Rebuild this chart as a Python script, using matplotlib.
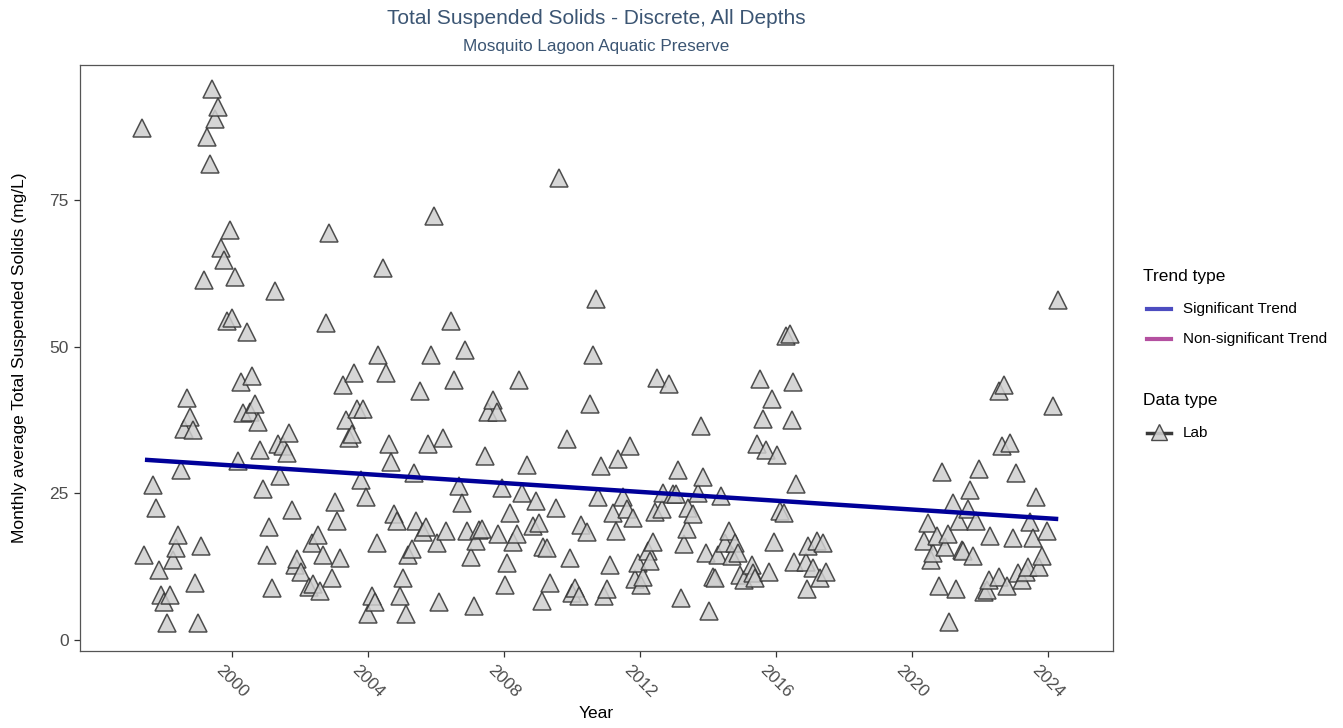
import matplotlib
matplotlib.use("Agg")
import matplotlib.pyplot as plt
from matplotlib.lines import Line2D
import numpy as np

plt.rcParams['font.family'] = ['Liberation Sans', 'DejaVu Sans']

# ---- data (decimal year, monthly average TSS mg/L) ----
years = [
    1997.34, 1997.42, 1997.68, 1997.76, 1997.84, 1997.90, 1998.00, 1998.09, 1998.18, 1998.26,
    1998.34, 1998.42, 1998.51, 1998.59, 1998.67, 1998.76, 1998.84, 1998.92, 1999.01, 1999.09,
    1999.18, 1999.26, 1999.34, 1999.42, 1999.51, 1999.59, 1999.68, 1999.76, 1999.84, 1999.93,
    2000.01, 2000.10, 2000.17, 2000.26, 2000.33, 2000.43, 2000.53, 2000.60, 2000.68, 2000.77,
    2000.83, 2000.92, 2001.02, 2001.09, 2001.19, 2001.26, 2001.35, 2001.42, 2001.49, 2001.61,
    2001.68, 2001.76, 2001.85, 2001.90, 2002.02, 2002.27, 2002.34, 2002.39, 2002.52, 2002.59,
    2002.68, 2002.76, 2002.85, 2002.93, 2003.02, 2003.10, 2003.19, 2003.27, 2003.34, 2003.43,
    2003.52, 2003.60, 2003.69, 2003.80, 2003.86, 2003.93, 2004.01, 2004.11, 2004.21, 2004.27,
    2004.30, 2004.43, 2004.52, 2004.61, 2004.69, 2004.75, 2004.85, 2004.93, 2005.02, 2005.11,
    2005.19, 2005.28, 2005.35, 2005.42, 2005.52, 2005.61, 2005.70, 2005.77, 2005.85, 2005.94,
    2006.02, 2006.10, 2006.20, 2006.28, 2006.44, 2006.52, 2006.69, 2006.77, 2006.86, 2006.92,
    2007.02, 2007.11, 2007.17, 2007.27, 2007.36, 2007.44, 2007.52, 2007.69, 2007.79, 2007.83,
    2007.94, 2008.02, 2008.10, 2008.19, 2008.27, 2008.37, 2008.44, 2008.53, 2008.69, 2008.86,
    2008.95, 2009.03, 2009.11, 2009.14, 2009.27, 2009.35, 2009.53, 2009.61, 2009.86, 2009.94,
    2010.00, 2010.09, 2010.20, 2010.26, 2010.45, 2010.53, 2010.62, 2010.70, 2010.77, 2010.86,
    2010.95, 2011.03, 2011.11, 2011.20, 2011.29, 2011.36, 2011.51, 2011.61, 2011.70, 2011.79,
    2011.85, 2011.95, 2012.03, 2012.10, 2012.22, 2012.29, 2012.37, 2012.43, 2012.50, 2012.64,
    2012.68, 2012.86, 2012.98, 2013.06, 2013.12, 2013.20, 2013.28, 2013.37, 2013.42, 2013.57,
    2013.71, 2013.79, 2013.86, 2013.94, 2014.03, 2014.14, 2014.21, 2014.28, 2014.37, 2014.50,
    2014.62, 2014.70, 2014.79, 2014.89, 2014.95, 2015.07, 2015.29, 2015.33, 2015.38, 2015.44,
    2015.54, 2015.62, 2015.70, 2015.80, 2015.87, 2015.95, 2016.04, 2016.12, 2016.22, 2016.30,
    2016.40, 2016.46, 2016.50, 2016.53, 2016.59, 2016.87, 2016.91, 2016.95, 2017.10, 2017.20,
    2017.29, 2017.39, 2017.46,
    2020.36, 2020.46, 2020.56, 2020.63, 2020.73, 2020.80, 2020.88, 2020.97, 2021.07, 2021.10,
    2021.21, 2021.29, 2021.38, 2021.46, 2021.51, 2021.64, 2021.71, 2021.80, 2021.88, 2021.96,
    2022.13, 2022.19, 2022.27, 2022.29, 2022.55, 2022.56, 2022.64, 2022.71, 2022.80, 2022.88,
    2022.96, 2023.06, 2023.11, 2023.23, 2023.34, 2023.40, 2023.46, 2023.55, 2023.64, 2023.73,
    2023.81, 2023.96, 2024.14, 2024.30,
]
tss = [
    87.2, 14.4, 26.4, 22.4, 11.9, 7.7, 6.5, 2.9, 7.7, 13.6,
    15.6, 17.9, 29.0, 36.0, 41.2, 38.0, 35.7, 9.7, 2.9, 16.0,
    61.4, 85.8, 81.2, 93.9, 88.8, 90.8, 66.8, 64.7, 54.4, 69.8,
    54.8, 61.8, 30.5, 43.9, 38.6, 52.4, 38.9, 44.9, 40.2, 37.1,
    32.3, 25.7, 14.4, 19.2, 8.9, 59.4, 33.4, 28.0, 33.1, 31.9,
    35.3, 22.2, 12.8, 13.8, 11.5, 9.0, 16.5, 9.5, 17.9, 8.4,
    14.4, 54.0, 69.3, 10.5, 23.5, 20.3, 13.9, 43.5, 37.4, 34.4,
    35.1, 45.5, 39.4, 27.3, 39.4, 24.4, 4.4, 7.5, 6.4, 16.5,
    48.5, 63.4, 45.5, 33.4, 30.4, 21.4, 20.3, 7.5, 10.5, 4.4,
    14.4, 15.5, 28.4, 20.3, 42.4, 18.4, 19.3, 33.4, 48.6, 72.3,
    16.5, 6.5, 34.4, 18.5, 54.4, 44.3, 26.2, 23.4, 49.4, 18.5,
    14.2, 5.7, 16.9, 18.7, 18.9, 31.4, 38.8, 40.9, 38.8, 18.1,
    25.9, 9.4, 13.1, 21.6, 16.6, 18.1, 44.3, 25.0, 29.8, 19.4,
    23.6, 19.9, 6.6, 15.9, 15.6, 9.7, 22.4, 78.7, 34.3, 14.0,
    8.0, 8.8, 7.4, 19.6, 18.4, 40.2, 48.6, 58.1, 24.4, 29.7,
    7.4, 8.6, 12.7, 21.6, 18.6, 30.8, 24.4, 22.3, 33.1, 20.8,
    10.3, 13.1, 9.4, 10.7, 15.1, 13.5, 16.7, 21.8, 44.7, 22.3,
    25.1, 43.6, 24.9, 24.9, 29.0, 7.1, 16.4, 18.9, 22.4, 21.4,
    25.0, 36.4, 27.7, 14.8, 5.0, 10.8, 10.5, 14.4, 24.6, 16.5,
    18.6, 14.3, 16.5, 14.8, 11.1, 10.2, 12.8, 11.4, 10.5, 33.4,
    44.4, 37.6, 32.4, 11.6, 41.0, 16.7, 31.5, 21.9, 21.7, 51.8,
    52.2, 37.5, 43.9, 13.3, 26.6, 13.3, 8.6, 16.0, 12.2, 16.8,
    10.5, 16.5, 11.6,
    16.8, 19.9, 13.6, 14.8, 17.7, 9.2, 28.7, 15.8, 18.1, 3.1,
    23.4, 8.6, 20.3, 15.3, 15.1, 22.3, 25.5, 14.3, 20.3, 29.1,
    8.2, 8.5, 10.2, 17.7, 10.8, 42.5, 33.1, 43.5, 9.2, 33.5,
    17.3, 28.5, 11.4, 10.2, 11.6, 12.5, 20.1, 17.3, 24.4, 12.5,
    14.3, 18.5, 39.9, 58.0,
]
trend_years = [1997.44, 2024.30]
trend_values = [30.7, 20.6]

x_ticks = [2000, 2004, 2008, 2012, 2016, 2020, 2024]
y_ticks = [0, 25, 50, 75]

title = "Total Suspended Solids - Discrete, All Depths"
subtitle = "Mosquito Lagoon Aquatic Preserve"
trend_labels = ['Significant Trend', 'Non-significant Trend']
trend_colors = ['#4c4cc0', '#b450a0']
data_labels = ['Lab']

# ---- figure ----
W, H = 1343, 728
fig = plt.figure(figsize=(W / 100, H / 100), dpi=100)
ax = fig.add_axes([80 / W, 1 - 651 / H, (1113 - 80) / W, (651 - 65) / H])

ax.plot(years, tss, linestyle='none', marker='^', markersize=12.5,
        markerfacecolor='#cfcfcf', markeredgecolor='#333333',
        markeredgewidth=1.1, alpha=0.85, zorder=2)
ax.plot(trend_years, trend_values, color='#000099', linewidth=3.2,
        solid_capstyle='butt', zorder=3)

ax.set_xlim(1995.53, 2025.91)
ax.set_ylim(-1.9, 98.0)
ax.set_xticks(x_ticks)
ax.set_yticks(y_ticks)
ax.set_xticklabels([str(t) for t in x_ticks], rotation=-45, ha='center', va='top')
ax.tick_params(axis='both', colors='#333333', labelcolor='#4d4d4d',
               labelsize=12.5, length=4, width=0.9)
ax.tick_params(axis='x', pad=4)
ax.tick_params(axis='y', pad=4)
for s in ax.spines.values():
    s.set_color('#555555')
    s.set_linewidth(0.9)

ax.set_xlabel('Year', fontsize=12.5, color='black')
ax.set_ylabel('Monthly average Total Suspended Solids (mg/L)', fontsize=12.5,
              color='black')
ax.yaxis.set_label_coords(-0.051, 0.5)
ax.xaxis.set_label_coords(0.5, -0.094)

cx = (80 + 1113) / 2 / W
fig.text(cx, 1 - 18 / H, title, ha='center', va='center', fontsize=15,
         color='#3b5573')
fig.text(cx, 1 - 46 / H, subtitle, ha='center', va='center', fontsize=12.3,
         color='#3b5573')

# ---- legends (drawn in figure pixel positions) ----
def fx(px):
    return px / W

def fy(py):
    return 1 - py / H

fig.text(fx(1143), fy(277), 'Trend type', ha='left', va='center',
         fontsize=12.5, color='black')
for i, (lab, col) in enumerate(zip(trend_labels, trend_colors)):
    yy = 309 + 30 * i
    fig.add_artist(Line2D([fx(1147), fx(1171)], [fy(yy), fy(yy)], color=col,
                          linewidth=3, transform=fig.transFigure))
    fig.text(fx(1183), fy(yy), lab, ha='left', va='center', fontsize=11,
             color='black')

fig.text(fx(1143), fy(400), 'Data type', ha='left', va='center',
         fontsize=12.5, color='black')
for i, lab in enumerate(data_labels):
    yy = 433 + 30 * i
    fig.add_artist(Line2D([fx(1147), fx(1171)], [fy(yy), fy(yy)],
                          color='#3a3a3a', linewidth=2.5,
                          transform=fig.transFigure))
    fig.add_artist(Line2D([fx(1159)], [fy(yy - 1)], linestyle='none',
                          marker='^', markersize=11,
                          markerfacecolor='#cfcfcf', markeredgecolor='#3a3a3a',
                          alpha=0.9, transform=fig.transFigure))
    fig.text(fx(1183), fy(yy), lab, ha='left', va='center', fontsize=11,
             color='black')

fig.savefig('out.png', dpi=100)
